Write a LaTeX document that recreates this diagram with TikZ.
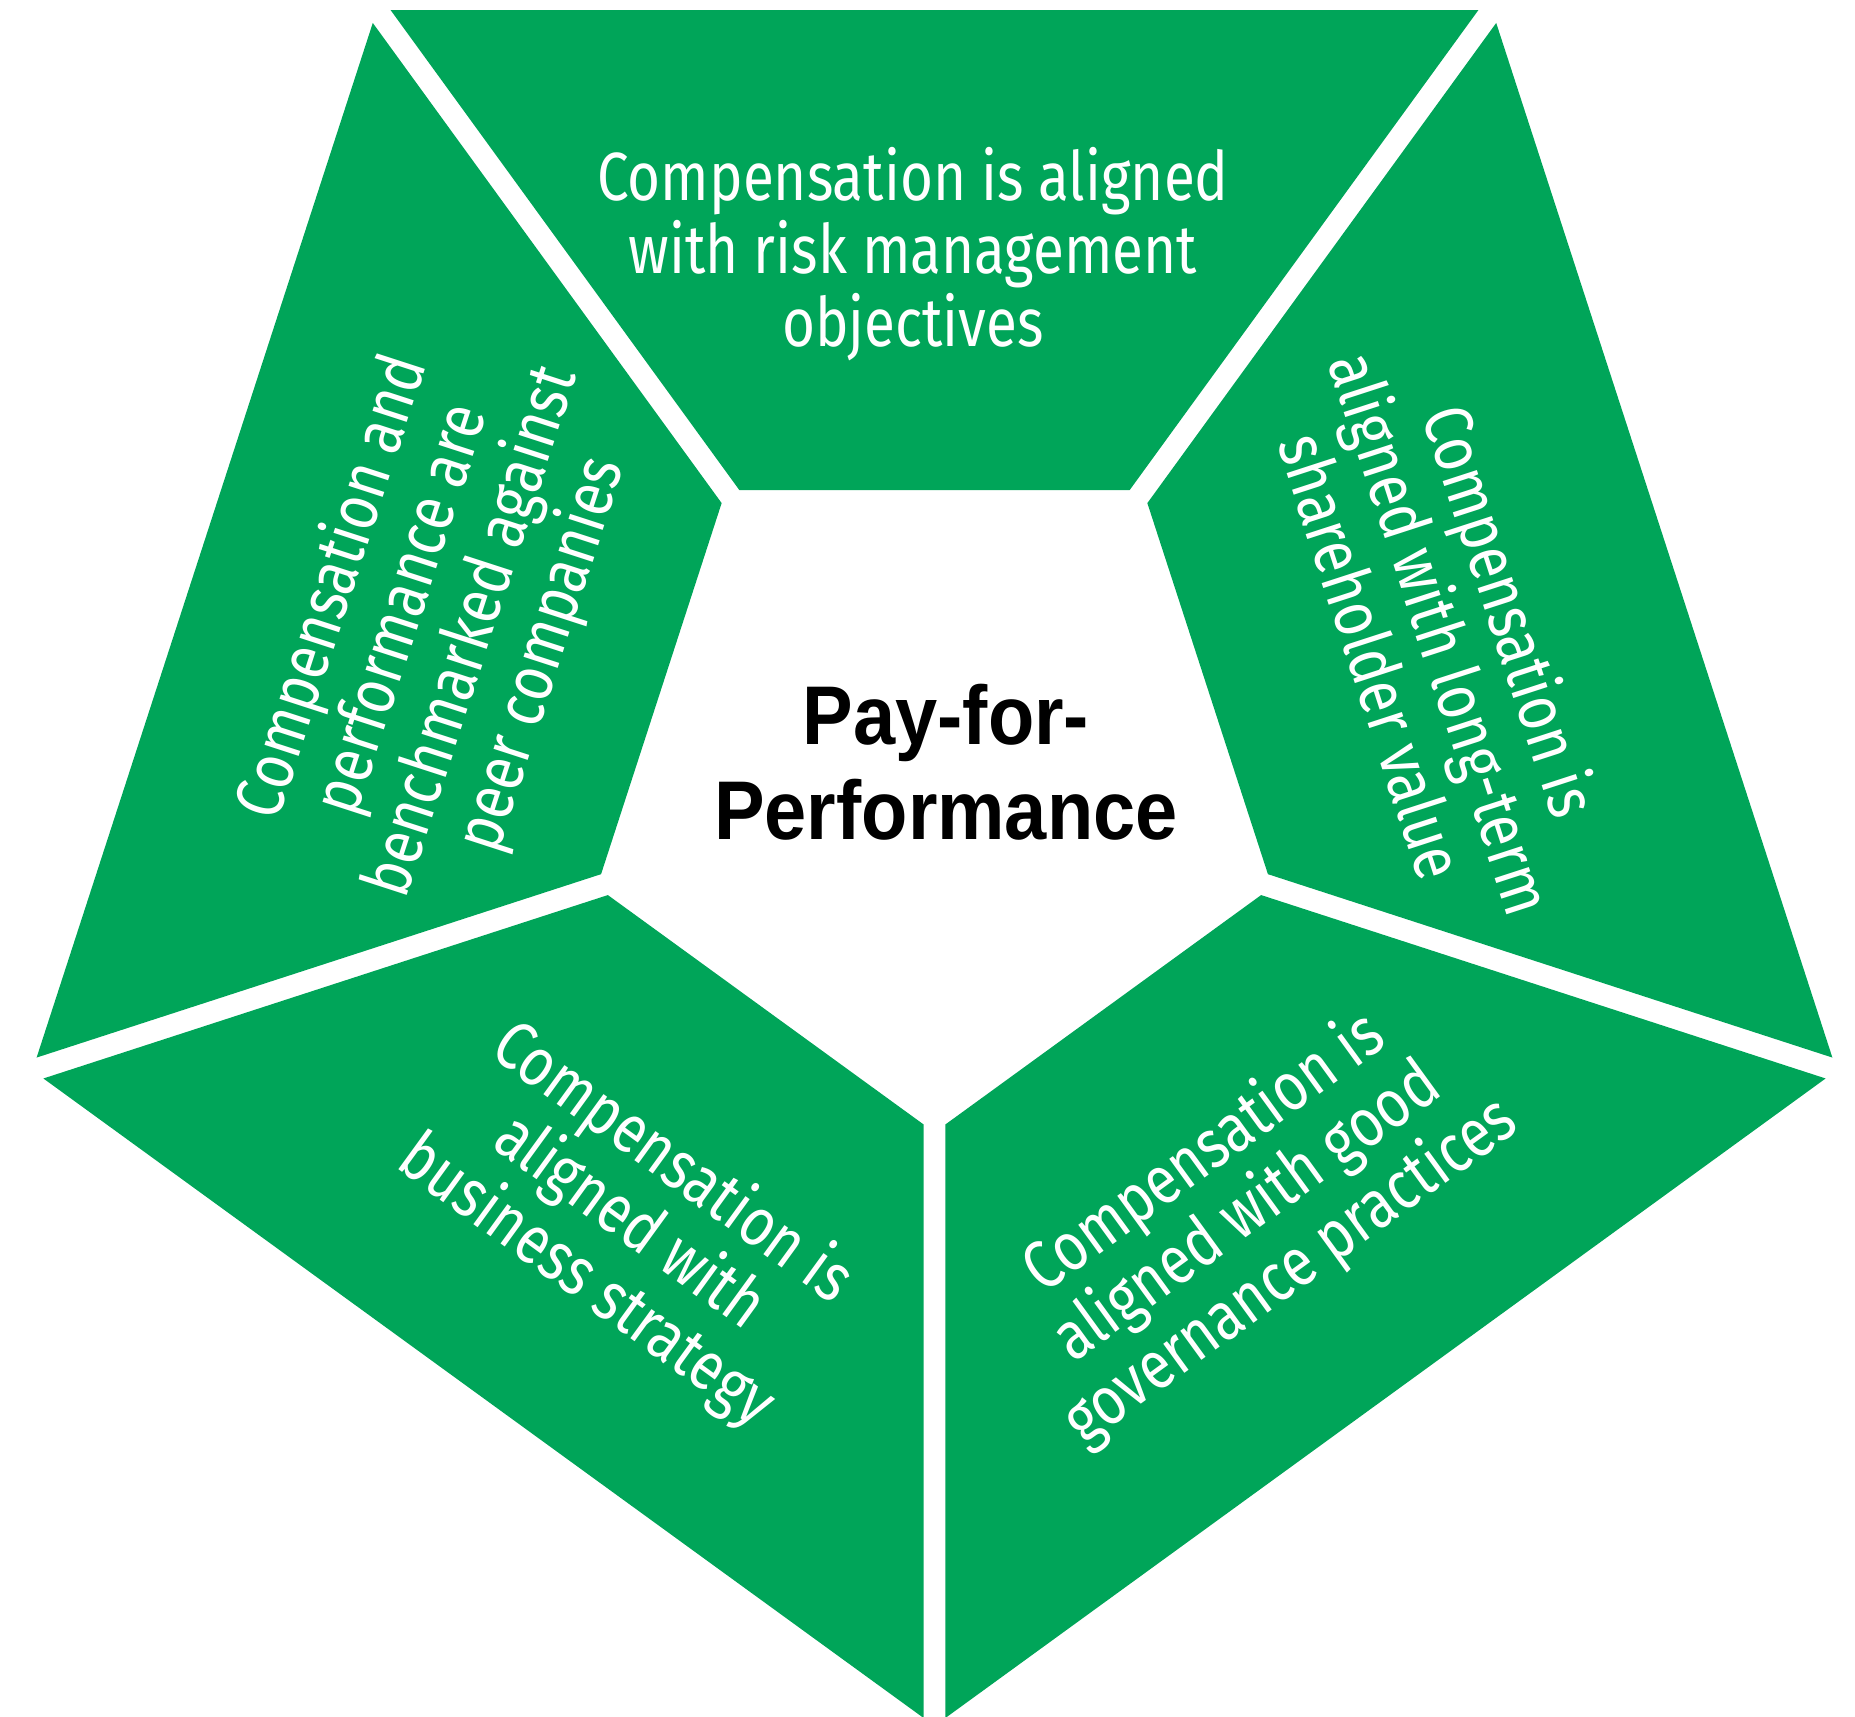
\documentclass[tikz,border=0pt]{standalone}
\usepackage{fontspec}
\usetikzlibrary{calc}
\newfontfamily\segfont{Fira Sans}[FakeStretch=0.83]
\newfontfamily\hubfont{Liberation Sans}[FakeStretch=0.91]
\definecolor{pgreen}{RGB}{0,165,89}
\tikzset{
  seglabel/.style={text=white, align=center, inner sep=0pt,
    font=\segfont\fontsize{19.4}{20.8}\selectfont},
  hublabel/.style={text=black, align=center, inner sep=0pt,
    font=\hubfont\bfseries\fontsize{23.7}{27}\selectfont},
}
\begin{document}
\begin{tikzpicture}
\useasboundingbox (0,0) rectangle (18.55,17.17);
\def\Ro{9.485}
\def\Ri{3.55}
\coordinate (C) at (9.345,9.396);
\foreach \a in {54,126,198,270,342}{
  \begin{scope}
    \coordinate (P) at ($(C)+({\a+36}:0.187)$);
    \clip (P) -- ($(P)+(\a:14)$) -- ($(P)+({\a+72}:14)$) -- cycle;
    \fill[pgreen] ($(C)+(\a:\Ro)$) -- ($(C)+({\a+72}:\Ro)$)
      -- ($(C)+({\a+72}:\Ri)$) -- ($(C)+(\a:\Ri)$) -- cycle;
  \end{scope}
}
\node[hublabel] (hub) at (9.46,9.55) {Pay-for-\\Performance};
\node[seglabel] (risk) at (9.13,14.63) {Compensation is aligned\\with risk management\\objectives};
\node[seglabel, rotate=72] (peer) at (4.38,10.96) {Compensation and\\performance are\\benchmarked against\\peer companies};
\node[seglabel, rotate=-72] (longterm) at (14.43,10.84) {Compensation is\\aligned with long-term\\shareholder value};
\node[seglabel, rotate=36] (gov) at (12.48,5.04) {Compensation is\\aligned with good\\governance practices};
\node[seglabel, rotate=-36] (strat) at (6.29,4.94) {Compensation is\\aligned with\\business strategy};
\end{tikzpicture}
\end{document}
